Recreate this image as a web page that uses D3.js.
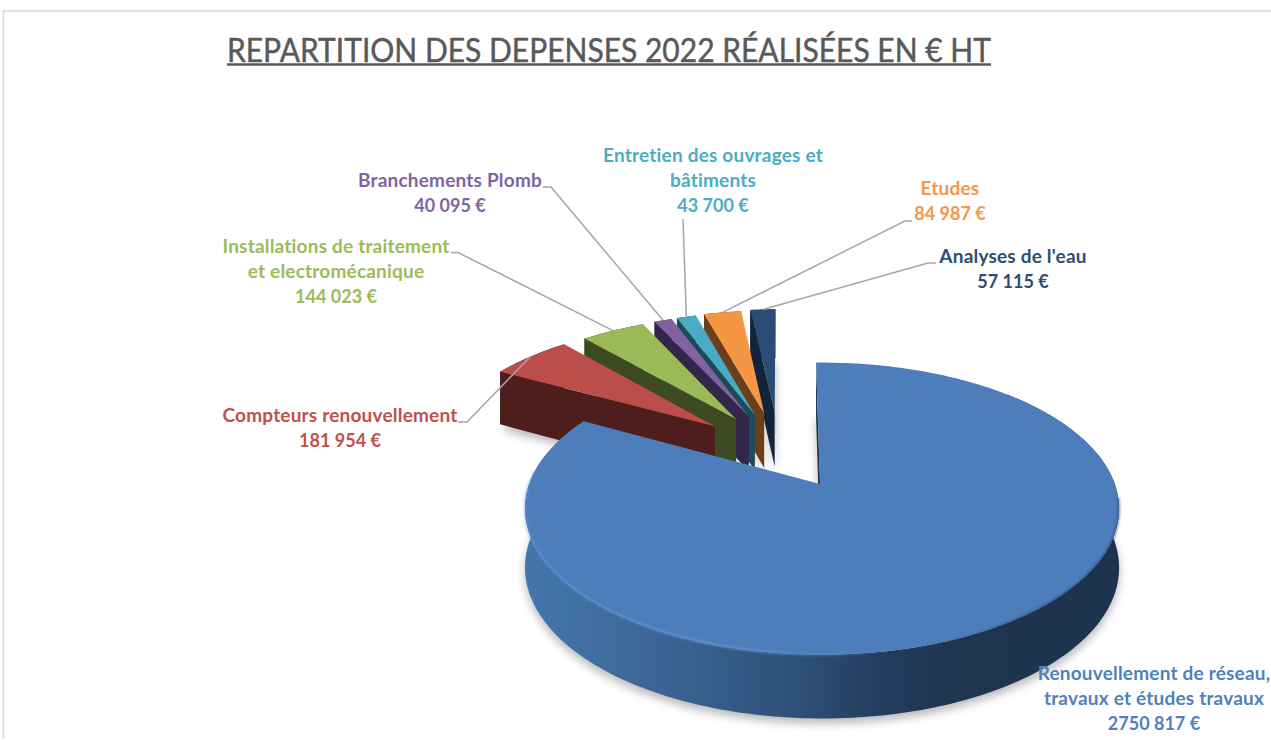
<!DOCTYPE html>
<html lang="fr">
<head>
<meta charset="utf-8">
<title>Répartition des dépenses 2022</title>
<script src="https://cdn.jsdelivr.net/npm/d3@7"></script>
<style>
html,body{margin:0;padding:0;background:#fff;overflow:hidden}
svg{display:block}
text{font-family:Lato,"Noto Sans",sans-serif}
</style>
</head>
<body>
<svg id="chart" width="1271" height="740"></svg>
<script>
// ---------- data ----------
const titleText = "REPARTITION DES DEPENSES 2022 RÉALISÉES EN € HT";
const categories = [
  ["Renouvellement de réseau,", "travaux et études travaux"],
  ["Compteurs renouvellement"],
  ["Installations de traitement", "et electromécanique"],
  ["Branchements Plomb"],
  ["Entretien des ouvrages et", "bâtiments"],
  ["Etudes"],
  ["Analyses de l'eau"]
];
const values = [2750817, 181954, 144023, 40095, 43700, 84987, 57115];
const valueLabels = ["2750 817 €", "181 954 €", "144 023 €", "40 095 €", "43 700 €", "84 987 €", "57 115 €"];

// ---------- style ----------
const topColors  = ["#4d7ebb", "#bb4d4a", "#9aba58", "#7f63a1", "#4aabc5", "#f59644", "#2a4c75"];
const wallColors = ["#1f3550", "#4e1e1d", "#3e4a20", "#33264a", "#1b4a58", "#6b3f1a", "#11243b"];
const textColors = ["#4f81bd", "#c0504d", "#9bbb59", "#8064a2", "#4bacc6", "#f79646", "#2c4d75"];

// ---------- layout of the labels: centre x, first baseline ----------
const labelX = [1154, 340, 336, 450, 713, 950, 1013];
const labelY = [680, 422, 253, 187, 162, 195, 263];
const lineStep = 25;
// leader line start (near the label), elbow
const leaderStart = [null, [458,422], [451,252.5], [543,187], [683,219], [912,221], [936,263]];
const leaderElbow = [null, [467,422], [458,252.5], [551,187], null, [905,221], [928,263]];

// ---------- projection of the pie plane ----------
const ox = 820, oy = 484, A = 291.8, B = 141.4, k = 0.168;
const px = p => ox + A * p[0] / (1 - k * p[1]);
const py = p => oy + B * p[1] / (1 - k * p[1]);
const depth = v => 58 * (1 + 0.1 * v);

const explode = 0.585;
const dirOf = b => 0.52 * b - 0.2548;   // direction of the pull for a slice's bisector (radians, signed)

const svg = d3.select("#chart");
const color = d3.scaleOrdinal().domain(d3.range(values.length)).range(topColors);
const wall = d3.scaleOrdinal().domain(d3.range(values.length)).range(wallColors);
const tcolor = d3.scaleOrdinal().domain(d3.range(values.length)).range(textColors);

const startDeg = -1.3;
const pie = d3.pie().sort(null).value(d => d)
  .startAngle(startDeg * Math.PI / 180)
  .endAngle((startDeg + 360) * Math.PI / 180);
const arcs = pie(values);

const signed = a => { let s = a % (2*Math.PI); if (s > Math.PI) s -= 2*Math.PI; return s; };
arcs.forEach((d, i) => {
  if (i === 0) { d.off = [0, 0]; d.rimOff = [0.0068, 0]; d.r = 1.0034; return; }
  const b = signed((d.startAngle + d.endAngle) / 2);
  const a = dirOf(b);
  d.off = [explode * Math.sin(a), -explode * Math.cos(a)];
  d.rimOff = d.off; d.r = 1;
});
const rim = (d, a) => [d.rimOff[0] + d.r * Math.sin(a), d.rimOff[1] - d.r * Math.cos(a)];
const samples = (a0, a1) => {
  const n = Math.max(2, Math.ceil((a1 - a0) / 0.02));
  return d3.range(n + 1).map(j => a0 + (a1 - a0) * j / n);
};
const lineTop = d3.line().x(px).y(py);
const bottomPts = pts => pts.map(p => [px(p), py(p) + depth(p[1])]);
const topPts = pts => pts.map(p => [px(p), py(p)]);
const poly = d3.line();

// ---------- defs ----------
const defs = svg.append("defs");
const f1 = defs.append("filter").attr("id","soft").attr("x","-20%").attr("y","-20%").attr("width","140%").attr("height","140%");
f1.append("feGaussianBlur").attr("stdDeviation", 5);
const f3 = defs.append("filter").attr("id","softEdge").attr("x","-5%").attr("y","-5%").attr("width","110%").attr("height","110%");
f3.append("feGaussianBlur").attr("stdDeviation", 0.8);

const g = defs.append("linearGradient").attr("id","blueWall")
  .attr("gradientUnits","userSpaceOnUse").attr("x1",525).attr("x2",1118).attr("y1",0).attr("y2",0);
[[0,"#4476ab"],[0.2,"#3d6798"],[0.45,"#2f5179"],[0.6,"#233d5e"],[0.72,"#1f3550"],[1,"#1e334e"]]
  .forEach(s => g.append("stop").attr("offset", s[0]).attr("stop-color", s[1]));
const h = defs.append("linearGradient").attr("id","blueRim")
  .attr("gradientUnits","userSpaceOnUse").attr("x1",525).attr("x2",1118).attr("y1",0).attr("y2",0);
[[0,"#5f95d8",0.55],[0.3,"#6199dc",0.9],[0.5,"#5a8fcf",0.5],[0.62,"#4d7ebb",0],[0.8,"#1f3550",0.35],[1,"#1f3550",0.5]]
  .forEach(s => h.append("stop").attr("offset", s[0]).attr("stop-color", s[1]).attr("stop-opacity", s[2]));

// ---------- frame ----------
svg.append("path").attr("d","M3.5,739V11H1271").attr("fill","none").attr("stroke","#d9d9d9").attr("stroke-width",1.5);

// ---------- title ----------
svg.append("text").attr("x", 609).attr("y", 62).attr("text-anchor","middle")
  .attr("font-size", 32).attr("fill","#595959").attr("stroke","#595959").attr("stroke-width",0.45)
  .attr("textLength", 764).attr("lengthAdjust","spacingAndGlyphs")
  .text(titleText);
svg.append("line").attr("x1",227).attr("x2",991).attr("y1",64.5).attr("y2",64.5)
  .attr("stroke","#595959").attr("stroke-width",2.4);

// ---------- shadows ----------
const shadows = svg.append("g").attr("filter","url(#soft)").attr("fill","#000").attr("opacity",0.28)
  .attr("transform","translate(0,5)");
arcs.forEach(d => {
  const pts = samples(d.startAngle, d.endAngle).map(a => rim(d, a));
  pts.push(d.off);
  shadows.append("path").attr("d", poly(bottomPts(pts)) + "Z");
});

// ---------- exploded slices, from the right to the left ----------
const slices = arcs.slice(1).reverse();
const sliceG = svg.append("g");
slices.forEach(d => {
  const i = d.index;
  const gs = sliceG.append("g");
  const rimPts = samples(d.startAngle, d.endAngle).map(a => rim(d, a));
  gs.append("path")
    .attr("d", poly(topPts(rimPts).concat(bottomPts(rimPts).reverse())) + "Z")
    .attr("fill", wall(i));
  const s = rim(d, d.startAngle);
  gs.append("path")
    .attr("d", poly(topPts([s, d.off]).concat(bottomPts([d.off, s]))) + "Z")
    .attr("fill", wall(i));
  gs.append("path")
    .attr("d", lineTop(rimPts.concat([d.off])) + "Z")
    .attr("fill", color(i));
});

// ---------- large slice ----------
const big = arcs[0];
const bigG = svg.append("g");
const cutS = rim(big, big.startAngle);
bigG.append("path")
  .attr("d", poly(topPts([cutS, big.off]).concat(bottomPts([big.off, cutS]))) + "Z")
  .attr("fill", wall(0));
const frontPts = samples(Math.PI * 0.25, big.endAngle).map(a => rim(big, a));
bigG.append("path")
  .attr("d", poly(topPts(frontPts).concat(bottomPts(frontPts).reverse())) + "Z")
  .attr("fill", "url(#blueWall)");
const bigPts = samples(big.startAngle, big.endAngle).map(a => rim(big, a));
bigG.append("path")
  .attr("d", lineTop(bigPts.concat([big.off])) + "Z")
  .attr("fill", color(0));
const bevelPts = samples(Math.PI * 0.53, Math.PI * 1.53).map(a => rim(big, a));
bigG.append("path")
  .attr("d", lineTop(bevelPts))
  .attr("fill","none").attr("stroke","url(#blueRim)").attr("stroke-width",2.2)
  .attr("filter","url(#softEdge)");

// ---------- leader lines ----------
const leaders = svg.append("g").attr("fill","none").attr("stroke","#a6a6a6").attr("stroke-width",1.5);
arcs.forEach((d, i) => {
  if (!leaderStart[i]) return;
  const m = rim(d, (d.startAngle + d.endAngle) / 2);
  const pts = [leaderStart[i]];
  if (leaderElbow[i]) pts.push(leaderElbow[i]);
  pts.push([px(m), py(m)]);
  leaders.append("path").attr("d", poly(pts));
});

// ---------- labels ----------
const labels = svg.append("g").attr("font-weight", 700).attr("text-anchor","middle");
arcs.forEach((d, i) => {
  const t = labels.append("text").attr("fill", tcolor(i));
  categories[i].forEach((s, j) => {
    t.append("tspan").attr("x", labelX[i]).attr("y", labelY[i] + j * lineStep)
      .attr("font-size", 19).attr("letter-spacing", 0.2).text(s);
  });
  t.append("tspan").attr("x", labelX[i]).attr("y", labelY[i] + categories[i].length * lineStep)
    .attr("font-size", 18).text(valueLabels[i]);
});
</script>
</body>
</html>
